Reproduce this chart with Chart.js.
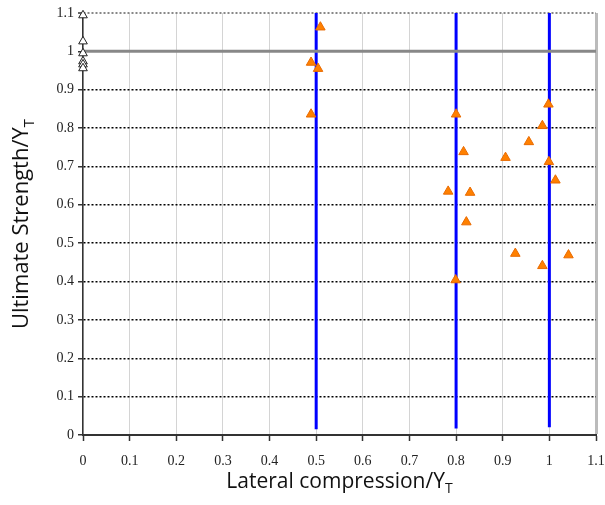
<!DOCTYPE html>
<html>
<head>
<meta charset="utf-8">
<script src="https://cdn.jsdelivr.net/npm/chart.js@4.4.1/dist/chart.umd.min.js"></script>
<style>
  body { margin: 0; background: #fff; }
  #wrap { width: 605px; height: 505px; }
</style>
</head>
<body>
<div id="wrap"><canvas id="chart"></canvas></div>
<script>
// measured test points (orange triangles)
const testX = [0.509, 0.489, 0.504, 0.489, 0.998, 0.800, 0.985, 0.956, 0.816, 0.906,
               0.999, 1.013, 0.783, 0.830, 0.822, 0.927, 1.041, 0.985, 0.799];
const testY = [1.063, 0.971, 0.955, 0.836, 0.862, 0.836, 0.806, 0.764, 0.738, 0.723,
               0.712, 0.664, 0.635, 0.632, 0.555, 0.473, 0.469, 0.441, 0.404];

// uniaxial points at zero lateral compression (hollow triangles)
const uniX = [0, 0, 0, 0, 0, 0];
const uniY = [1.094, 1.026, 0.995, 0.974, 0.966, 0.956];

// vertical load paths
const pathX = [0.5, 0.8, 1.0];
const pathBottom = [0.015, 0.017, 0.02];
const pathTop = 1.1;

const refLevel = 1.0;
const axisMax = 1.1;

const toPts = (xs, ys) => xs.map((x, i) => ({x: x, y: ys[i]}));

const datasets = [];
pathX.forEach((x, i) => {
  datasets.push({
    type: 'line',
    data: [{x: x, y: pathBottom[i]}, {x: x, y: pathTop}],
    borderColor: '#0000ff',
    borderWidth: 3,
    pointRadius: 0,
    order: 3
  });
});
datasets.push({
  type: 'line',
  data: [{x: 0, y: refLevel}, {x: axisMax, y: refLevel}],
  borderColor: '#888888',
  borderWidth: 3,
  pointRadius: 0,
  order: 2
});
datasets.push({
  data: toPts(uniX, uniY),
  pointStyle: 'triangle',
  pointRadius: 5,
  backgroundColor: '#ffffff',
  borderColor: '#222222',
  borderWidth: 1,
  clip: false,
  order: 1
});
datasets.push({
  data: toPts(testX, testY),
  pointStyle: 'triangle',
  pointRadius: 5.5,
  backgroundColor: '#ff8000',
  borderColor: '#e86a00',
  borderWidth: 1,
  clip: false,
  order: 0
});

function drawSubTitle(ctx, main, sub, cx, cy, rot, size) {
  const subSize = Math.round(size * 0.68);
  ctx.save();
  ctx.translate(cx, cy);
  ctx.rotate(rot);
  ctx.font = size + 'px "Open Sans"';
  const w1 = ctx.measureText(main).width;
  ctx.font = subSize + 'px "Open Sans"';
  const w2 = ctx.measureText(sub).width;
  const x0 = -(w1 + w2) / 2;
  ctx.fillStyle = '#111';
  ctx.textBaseline = 'middle';
  ctx.textAlign = 'left';
  ctx.font = size + 'px "Open Sans"';
  ctx.fillText(main, x0, 0);
  ctx.font = subSize + 'px "Open Sans"';
  ctx.fillText(sub, x0 + w1, size * 0.33);
  ctx.restore();
}

const axisTitles = {
  id: 'axisTitles',
  afterDraw(chart) {
    const a = chart.chartArea;
    drawSubTitle(chart.ctx, 'Lateral compression/Y', 'T', (a.left + a.right) / 2, 482, 0, 21);
    drawSubTitle(chart.ctx, 'Ultimate Strength/Y', 'T', 22, (a.top + a.bottom) / 2, -Math.PI / 2, 22);
  }
};

const fmt = v => String(parseFloat(v.toFixed(1)));

new Chart(document.getElementById('chart'), {
  type: 'scatter',
  data: {datasets: datasets},
  options: {
    responsive: true,
    maintainAspectRatio: false,
    animation: false,
    layout: {padding: {top: 13, right: 9, left: 0, bottom: 0}},
    plugins: {legend: {display: false}, tooltip: {enabled: false}},
    scales: {
      x: {
        type: 'linear',
        min: 0,
        max: axisMax,
        afterFit: s => { s.height = 70; s.paddingLeft = 0; s.paddingRight = 0; },
        ticks: {
          stepSize: 0.1,
          callback: fmt,
          color: '#222',
          padding: 12,
          font: {family: '"Liberation Serif"', size: 14}
        },
        grid: {
          color: ctx => ctx.tick && Math.abs(ctx.tick.value - axisMax) < 1e-6 ? '#bbbbbb' : '#d4d4d4',
          lineWidth: ctx => ctx.tick && Math.abs(ctx.tick.value - axisMax) < 1e-6 ? 3 : 1,
          tickColor: '#333',
          tickLength: 6,
          tickWidth: 1.5
        },
        border: {color: '#333', width: 2}
      },
      y: {
        type: 'linear',
        min: 0,
        max: axisMax,
        afterFit: s => { s.width = 83; s.paddingTop = 0; s.paddingBottom = 0; },
        ticks: {
          stepSize: 0.1,
          callback: fmt,
          color: '#222',
          padding: 4,
          font: {family: '"Liberation Serif"', size: 14}
        },
        grid: {
          color: ctx => {
            if (!ctx.tick) return '#000';
            if (Math.abs(ctx.tick.value - axisMax) < 1e-6) return '#888888';
            if (Math.abs(ctx.tick.value - refLevel) < 1e-6) return 'rgba(0,0,0,0)';
            if (ctx.tick.value === 0) return 'rgba(0,0,0,0)';
            return '#000';
          },
          lineWidth: ctx => ctx.tick && Math.abs(ctx.tick.value - axisMax) < 1e-6 ? 2 : 1.5,
          tickColor: '#333',
          tickLength: 5,
          tickWidth: 1.5,
          tickBorderDash: []
        },
        border: {color: '#333', width: 1.5, dash: [2, 2]}
      }
    }
  },
  plugins: [axisTitles]
});
</script>
</body>
</html>
